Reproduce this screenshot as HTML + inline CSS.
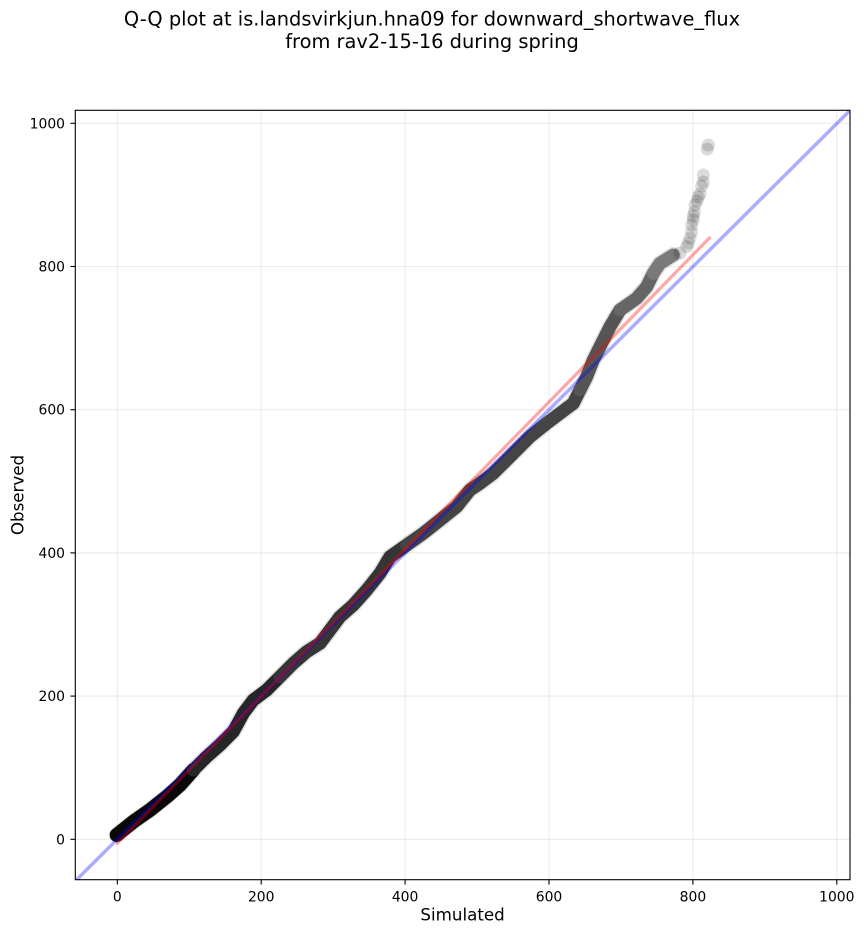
<!DOCTYPE html>
<html><head><meta charset="utf-8"><style>
html,body{margin:0;padding:0;background:#fff;}
svg{display:block;}
text{font-family:"DejaVu Sans","Liberation Sans",sans-serif;fill:#000;}
</style></head><body>
<svg width="864" height="934" viewBox="0 0 864 934" xmlns="http://www.w3.org/2000/svg">
<defs><clipPath id="ax"><rect x="75.3" y="110.3" width="774.7" height="769.4"/></clipPath></defs>
<rect width="864" height="934" fill="#fff"/>
<text x="432" y="25.5" font-size="19.4" text-anchor="middle">Q-Q plot at is.landsvirkjun.hna09 for downward_shortwave_flux</text>
<text x="432" y="48" font-size="19.4" text-anchor="middle">from rav2-15-16 during spring</text>
<g stroke="#b0b0b0" stroke-opacity="0.25" stroke-width="1.1">
<line x1="117.3" y1="110.3" x2="117.3" y2="879.7"/>
<line x1="261.2" y1="110.3" x2="261.2" y2="879.7"/>
<line x1="405.1" y1="110.3" x2="405.1" y2="879.7"/>
<line x1="549.0" y1="110.3" x2="549.0" y2="879.7"/>
<line x1="692.9" y1="110.3" x2="692.9" y2="879.7"/>
<line x1="836.8" y1="110.3" x2="836.8" y2="879.7"/>
<line x1="75.3" y1="839.3" x2="850" y2="839.3"/>
<line x1="75.3" y1="696.1" x2="850" y2="696.1"/>
<line x1="75.3" y1="552.9" x2="850" y2="552.9"/>
<line x1="75.3" y1="409.7" x2="850" y2="409.7"/>
<line x1="75.3" y1="266.5" x2="850" y2="266.5"/>
<line x1="75.3" y1="123.3" x2="850" y2="123.3"/>
</g>
<g clip-path="url(#ax)" fill="none" stroke-linecap="round" stroke-linejoin="round">
<path d="M116.7,835 L133.3,821.7 L150,810 L166.7,796.7 L180,785 L193.3,770 L206.7,756.7 L220,745 L233.3,731.7 L243.3,713.3 L253.3,700 L266.7,690 L280,676.7 L293.3,663.3 L306.7,651.7 L320,643.3 L330,630 L340,616.7 L353.3,605 L366.7,590 L380,573.3 L390,556.7 L406.7,545 L423.3,533.3 L440,520 L456.7,506.7 L470,490 L480,483.3 L493.3,473.3 L506.7,460 L516.7,450 L530,436.7 L546.7,423.3 L560,413.3 L573.3,403.3 L580,390 L586.7,376.7 L593.3,360 L600,346.7 L610,326.7 L620,310 L636.7,298.3 L646.7,286.7 L653.3,273.3 L660,263.3 L673.3,255" stroke="#000" stroke-opacity="0.12" stroke-width="16"/>
<path d="M116.7,835 L133.3,821.7 L150,810 L166.7,796.7 L180,785 L193.3,770" stroke="#080808" stroke-width="14"/>
<path d="M193.3,770 L206.7,756.7 L220,745 L233.3,731.7 L243.3,713.3 L253.3,700 L266.7,690 L280,676.7" stroke="#262626" stroke-width="13"/>
<path d="M280,676.7 L293.3,663.3 L306.7,651.7 L320,643.3 L330,630 L340,616.7 L353.3,605 L366.7,590 L380,573.3 L390,556.7 L406.7,545" stroke="#353535" stroke-width="13"/>
<path d="M406.7,545 L423.3,533.3 L440,520 L456.7,506.7 L470,490 L480,483.3 L493.3,473.3 L506.7,460 L516.7,450 L530,436.7 L546.7,423.3 L560,413.3 L573.3,403.3 L580,390" stroke="#444" stroke-width="13"/>
<path d="M580,390 L586.7,376.7 L593.3,360 L600,346.7 L610,326.7 L620,310" stroke="#555" stroke-width="13"/>
<path d="M620,310 L636.7,298.3 L646.7,286.7 L653.3,273.3" stroke="#666" stroke-width="13"/>
<path d="M653.3,273.3 L660,263.3 L673.3,255" stroke="#7a7a7a" stroke-width="13"/>
<g fill="#000" fill-opacity="0.14" stroke="none">
<circle cx="680" cy="253" r="6.5"/>
<circle cx="686.7" cy="246.7" r="6.5"/>
<circle cx="688.3" cy="243" r="6.5"/>
<circle cx="690" cy="238" r="6.5"/>
<circle cx="691.7" cy="232" r="6.5"/>
<circle cx="691.7" cy="225" r="6.5"/>
<circle cx="693.3" cy="220" r="6.5"/>
<circle cx="693.3" cy="216" r="6.5"/>
<circle cx="694.3" cy="212" r="6.5"/>
<circle cx="695" cy="205" r="6.5"/>
<circle cx="697" cy="201" r="6.5"/>
<circle cx="698.3" cy="197" r="6.5"/>
<circle cx="700" cy="194" r="6.5"/>
<circle cx="701.7" cy="186" r="6.5"/>
<circle cx="703.3" cy="182" r="6.5"/>
<circle cx="703.3" cy="175" r="6.5"/>
<circle cx="707.3" cy="149" r="6.5"/>
<circle cx="708.3" cy="145" r="6.5"/>
</g>
<line x1="75.3" y1="881" x2="850" y2="110.4" stroke="#0000ff" stroke-opacity="0.33" stroke-width="3.5"/>
<line x1="117.3" y1="843.3" x2="709.5" y2="237.9" stroke="#ff0000" stroke-opacity="0.35" stroke-width="3.2"/>
</g>
<rect x="75.3" y="110.3" width="774.7" height="769.4" fill="none" stroke="#000" stroke-width="1.1"/>
<g stroke="#000" stroke-width="1.1">
<line x1="117.3" y1="879.7" x2="117.3" y2="884.6"/>
<line x1="261.2" y1="879.7" x2="261.2" y2="884.6"/>
<line x1="405.1" y1="879.7" x2="405.1" y2="884.6"/>
<line x1="549.0" y1="879.7" x2="549.0" y2="884.6"/>
<line x1="692.9" y1="879.7" x2="692.9" y2="884.6"/>
<line x1="836.8" y1="879.7" x2="836.8" y2="884.6"/>
<line x1="70.4" y1="839.3" x2="75.3" y2="839.3"/>
<line x1="70.4" y1="696.1" x2="75.3" y2="696.1"/>
<line x1="70.4" y1="552.9" x2="75.3" y2="552.9"/>
<line x1="70.4" y1="409.7" x2="75.3" y2="409.7"/>
<line x1="70.4" y1="266.5" x2="75.3" y2="266.5"/>
<line x1="70.4" y1="123.3" x2="75.3" y2="123.3"/>
</g>
<g font-size="13.9" text-anchor="middle">
<text x="117.3" y="901.5">0</text>
<text x="261.2" y="901.5">200</text>
<text x="405.1" y="901.5">400</text>
<text x="549.0" y="901.5">600</text>
<text x="692.9" y="901.5">800</text>
<text x="836.8" y="901.5">1000</text>
</g>
<g font-size="13.9" text-anchor="end">
<text x="65" y="844.3">0</text>
<text x="65" y="701.1">200</text>
<text x="65" y="557.9">400</text>
<text x="65" y="414.7">600</text>
<text x="65" y="271.5">800</text>
<text x="65" y="128.3">1000</text>
</g>
<text x="462.6" y="920.7" font-size="16.7" text-anchor="middle">Simulated</text>
<text x="0" y="0" font-size="16.7" text-anchor="middle" transform="translate(23.3,495) rotate(-90)">Observed</text>
</svg>
</body></html>
